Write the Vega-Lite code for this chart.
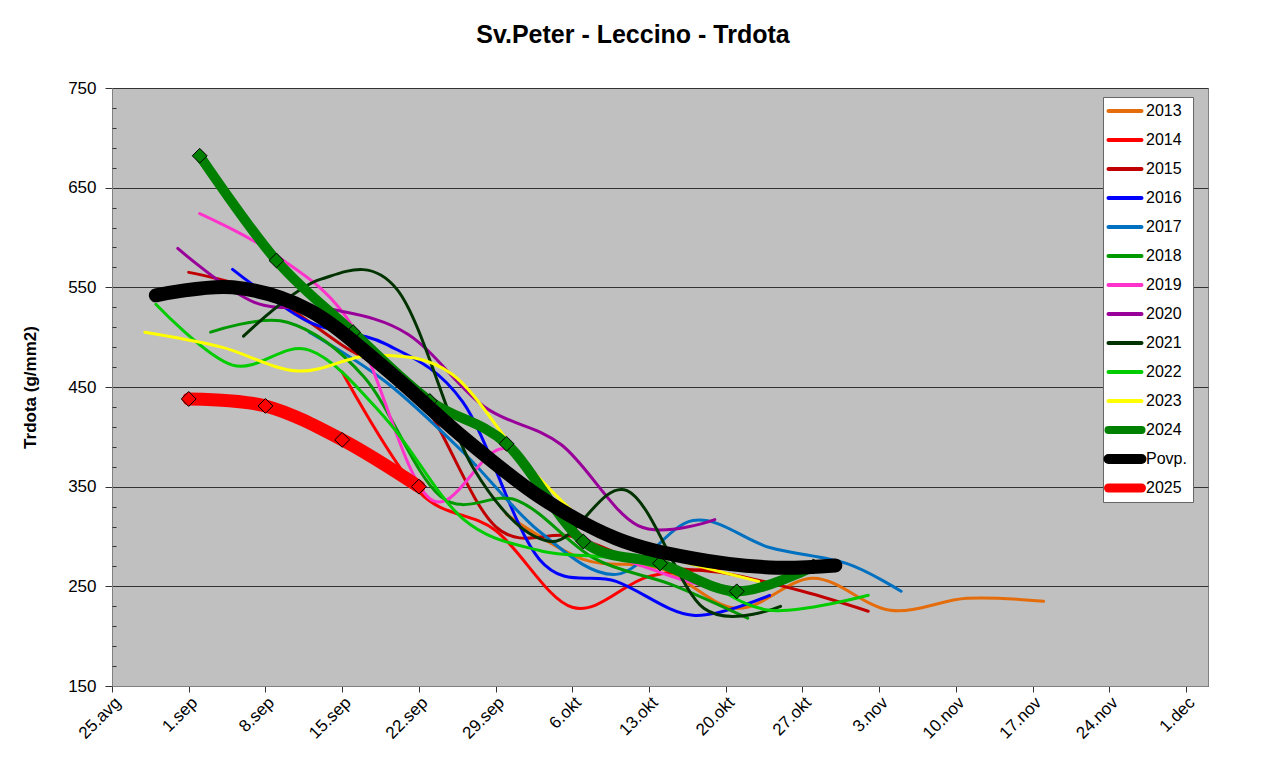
{
  "$schema": "https://vega.github.io/schema/vega-lite/v6.json",
  "width": 1096,
  "height": 598,
  "autosize": {"type": "none"},
  "padding": {"left": 112, "top": 88, "right": 76, "bottom": 75},
  "background": "white",
  "title": {"text": "Sv.Peter - Leccino - Trdota", "fontSize": 25, "font": "Liberation Sans", "fontWeight": "bold", "color": "#000000", "anchor": "middle", "frame": "group", "dx": -27, "offset": 31},
  "data": {"values": [
    {"s": "2013", "d": "2025-09-30", "v": 322}, {"s": "2013", "d": "2025-10-07", "v": 277}, {"s": "2013", "d": "2025-10-14", "v": 268}, {"s": "2013", "d": "2025-10-21", "v": 228}, {"s": "2013", "d": "2025-10-28", "v": 258}, {"s": "2013", "d": "2025-11-04", "v": 226}, {"s": "2013", "d": "2025-11-11", "v": 238}, {"s": "2013", "d": "2025-11-18", "v": 235},
    {"s": "2014", "d": "2025-09-15", "v": 465}, {"s": "2014", "d": "2025-09-22", "v": 345}, {"s": "2014", "d": "2025-09-29", "v": 306}, {"s": "2014", "d": "2025-10-06", "v": 229}, {"s": "2014", "d": "2025-10-13", "v": 260}, {"s": "2014", "d": "2025-10-20", "v": 268},
    {"s": "2015", "d": "2025-09-01", "v": 565}, {"s": "2015", "d": "2025-09-08", "v": 543}, {"s": "2015", "d": "2025-09-15", "v": 492}, {"s": "2015", "d": "2025-09-22", "v": 440}, {"s": "2015", "d": "2025-09-29", "v": 310}, {"s": "2015", "d": "2025-10-06", "v": 300}, {"s": "2015", "d": "2025-10-13", "v": 272}, {"s": "2015", "d": "2025-10-20", "v": 263}, {"s": "2015", "d": "2025-10-27", "v": 245}, {"s": "2015", "d": "2025-11-02", "v": 225},
    {"s": "2016", "d": "2025-09-05", "v": 568}, {"s": "2016", "d": "2025-09-12", "v": 515}, {"s": "2016", "d": "2025-09-19", "v": 493}, {"s": "2016", "d": "2025-09-26", "v": 435}, {"s": "2016", "d": "2025-10-03", "v": 277}, {"s": "2016", "d": "2025-10-10", "v": 255}, {"s": "2016", "d": "2025-10-17", "v": 221}, {"s": "2016", "d": "2025-10-24", "v": 241},
    {"s": "2017", "d": "2025-09-12", "v": 505}, {"s": "2017", "d": "2025-09-19", "v": 455}, {"s": "2017", "d": "2025-09-26", "v": 385}, {"s": "2017", "d": "2025-10-03", "v": 305}, {"s": "2017", "d": "2025-10-10", "v": 262}, {"s": "2017", "d": "2025-10-17", "v": 316}, {"s": "2017", "d": "2025-10-24", "v": 289}, {"s": "2017", "d": "2025-10-31", "v": 273}, {"s": "2017", "d": "2025-11-05", "v": 245},
    {"s": "2018", "d": "2025-09-03", "v": 505}, {"s": "2018", "d": "2025-09-10", "v": 515}, {"s": "2018", "d": "2025-09-17", "v": 460}, {"s": "2018", "d": "2025-09-24", "v": 340}, {"s": "2018", "d": "2025-10-01", "v": 336}, {"s": "2018", "d": "2025-10-08", "v": 278}, {"s": "2018", "d": "2025-10-15", "v": 252}, {"s": "2018", "d": "2025-10-22", "v": 218},
    {"s": "2019", "d": "2025-09-02", "v": 624}, {"s": "2019", "d": "2025-09-09", "v": 582}, {"s": "2019", "d": "2025-09-16", "v": 510}, {"s": "2019", "d": "2025-09-23", "v": 338}, {"s": "2019", "d": "2025-09-30", "v": 388}, {"s": "2019", "d": "2025-10-07", "v": 300}, {"s": "2019", "d": "2025-10-14", "v": 264}, {"s": "2019", "d": "2025-10-21", "v": 242},
    {"s": "2020", "d": "2025-08-31", "v": 589}, {"s": "2020", "d": "2025-09-07", "v": 535}, {"s": "2020", "d": "2025-09-14", "v": 528}, {"s": "2020", "d": "2025-09-21", "v": 503}, {"s": "2020", "d": "2025-09-28", "v": 430}, {"s": "2020", "d": "2025-10-05", "v": 392}, {"s": "2020", "d": "2025-10-12", "v": 311}, {"s": "2020", "d": "2025-10-19", "v": 317},
    {"s": "2021", "d": "2025-09-06", "v": 501}, {"s": "2021", "d": "2025-09-13", "v": 558}, {"s": "2021", "d": "2025-09-20", "v": 548}, {"s": "2021", "d": "2025-09-27", "v": 368}, {"s": "2021", "d": "2025-10-04", "v": 295}, {"s": "2021", "d": "2025-10-11", "v": 346}, {"s": "2021", "d": "2025-10-18", "v": 228}, {"s": "2021", "d": "2025-10-25", "v": 230},
    {"s": "2022", "d": "2025-08-29", "v": 533}, {"s": "2022", "d": "2025-09-05", "v": 472}, {"s": "2022", "d": "2025-09-12", "v": 487}, {"s": "2022", "d": "2025-09-19", "v": 418}, {"s": "2022", "d": "2025-09-26", "v": 318}, {"s": "2022", "d": "2025-10-03", "v": 286}, {"s": "2022", "d": "2025-10-10", "v": 278}, {"s": "2022", "d": "2025-10-17", "v": 260}, {"s": "2022", "d": "2025-10-24", "v": 226}, {"s": "2022", "d": "2025-11-02", "v": 241},
    {"s": "2023", "d": "2025-08-28", "v": 505}, {"s": "2023", "d": "2025-09-04", "v": 490}, {"s": "2023", "d": "2025-09-11", "v": 466}, {"s": "2023", "d": "2025-09-18", "v": 482}, {"s": "2023", "d": "2025-09-25", "v": 463}, {"s": "2023", "d": "2025-10-02", "v": 370}, {"s": "2023", "d": "2025-10-09", "v": 300}, {"s": "2023", "d": "2025-10-16", "v": 275}, {"s": "2023", "d": "2025-10-23", "v": 255},
    {"s": "2024", "d": "2025-09-02", "v": 682}, {"s": "2024", "d": "2025-09-09", "v": 577}, {"s": "2024", "d": "2025-09-16", "v": 505}, {"s": "2024", "d": "2025-09-23", "v": 436}, {"s": "2024", "d": "2025-09-30", "v": 393}, {"s": "2024", "d": "2025-10-07", "v": 295}, {"s": "2024", "d": "2025-10-14", "v": 273}, {"s": "2024", "d": "2025-10-21", "v": 245}, {"s": "2024", "d": "2025-10-28", "v": 270},
    {"s": "Povp.", "d": "2025-08-29", "v": 542}, {"s": "Povp.", "d": "2025-09-05", "v": 550}, {"s": "Povp.", "d": "2025-09-12", "v": 527}, {"s": "Povp.", "d": "2025-09-19", "v": 468}, {"s": "Povp.", "d": "2025-09-26", "v": 400}, {"s": "Povp.", "d": "2025-10-03", "v": 340}, {"s": "Povp.", "d": "2025-10-10", "v": 298}, {"s": "Povp.", "d": "2025-10-17", "v": 278}, {"s": "Povp.", "d": "2025-10-24", "v": 269}, {"s": "Povp.", "d": "2025-10-30", "v": 271},
    {"s": "2025", "d": "2025-09-01", "v": 438}, {"s": "2025", "d": "2025-09-08", "v": 431}, {"s": "2025", "d": "2025-09-15", "v": 397}, {"s": "2025", "d": "2025-09-22", "v": 350}
  ]},
  "encoding": {
    "x": {
      "field": "d", "type": "temporal",
      "scale": {"type": "utc", "domain": [{"year": 2025, "month": 8, "date": 25, "utc": true}, {"year": 2025, "month": 12, "date": 3, "utc": true}]},
      "axis": {
        "values": [
          {"year": 2025, "month": 8, "date": 25, "utc": true}, {"year": 2025, "month": 9, "date": 1, "utc": true}, {"year": 2025, "month": 9, "date": 8, "utc": true}, {"year": 2025, "month": 9, "date": 15, "utc": true}, {"year": 2025, "month": 9, "date": 22, "utc": true}, {"year": 2025, "month": 9, "date": 29, "utc": true}, {"year": 2025, "month": 10, "date": 6, "utc": true}, {"year": 2025, "month": 10, "date": 13, "utc": true}, {"year": 2025, "month": 10, "date": 20, "utc": true}, {"year": 2025, "month": 10, "date": 27, "utc": true}, {"year": 2025, "month": 11, "date": 3, "utc": true}, {"year": 2025, "month": 11, "date": 10, "utc": true}, {"year": 2025, "month": 11, "date": 17, "utc": true}, {"year": 2025, "month": 11, "date": 24, "utc": true}, {"year": 2025, "month": 12, "date": 1, "utc": true}
        ],
        "labelExpr": "utcdate(datum.value) + '.' + ['jan','feb','mar','apr','maj','jun','jul','avg','sep','okt','nov','dec'][utcmonth(datum.value)]",
        "labelAngle": -45, "labelFontSize": 17, "labelFont": "Liberation Sans", "labelColor": "#000000",
        "tickSize": 6, "tickColor": "#333333", "grid": false, "title": null, "domainColor": "#808080", "labelPadding": 2, "labelOverlap": false
      }
    }
  },
  "layer": [
    {
      "transform": [{"filter": {"field": "s", "oneOf": ["2013", "2014", "2015", "2016", "2017", "2018", "2019", "2020", "2021", "2022", "2023"]}}],
      "mark": {"type": "line", "interpolate": "cardinal", "strokeCap": "round", "strokeJoin": "round", "strokeWidth": 3},
      "encoding": {
        "y": {"field": "v", "type": "quantitative", "scale": {"domain": [150, 750], "nice": false, "zero": false},
          "axis": {"orient": "left", "values": [150, 250, 350, 450, 550, 650, 750], "grid": true, "gridColor": "#333333", "gridWidth": 1, "tickSize": 7, "tickColor": "#333333", "domainColor": "#808080", "labelFontSize": 17, "labelFont": "Liberation Sans", "labelColor": "#000000", "labelPadding": 9, "title": "Trdota (g/mm2)", "titleFont": "Liberation Sans", "titleFontSize": 17, "titleFontWeight": "bold", "titleColor": "#000000", "titlePadding": 28}},
        "color": {"field": "s", "type": "nominal",
          "scale": {"domain": ["2013", "2014", "2015", "2016", "2017", "2018", "2019", "2020", "2021", "2022", "2023", "2024", "Povp.", "2025"],
                    "range": ["#E46C0A", "#FF0000", "#C00000", "#0000FF", "#0070C0", "#009900", "#FF33CC", "#990099", "#003300", "#00CC00", "#FFFF00", "#008000", "#000000", "#FF0000"]},
          "legend": {"orient": "none", "legendX": 991, "legendY": 9, "title": null, "fillColor": "white", "strokeColor": "#666666", "padding": 6, "labelFontSize": 16, "labelFont": "Liberation Sans", "labelColor": "#000000", "symbolType": "stroke", "symbolSize": 1089, "symbolStrokeWidth": 3, "symbolOffset": 8, "rowPadding": 13, "labelOffset": 13, "gridAlign": "all",
            "encode": {"symbols": {"update": {"strokeWidth": {"signal": "datum.value == '2024' ? 8 : datum.value == 'Povp.' ? 10 : datum.value == '2025' ? 9 : 4"}, "strokeJoin": {"value": "round"}, "strokeCap": {"value": "round"}}}}}}
      }
    },
    {
      "transform": [{"filter": {"field": "s", "equal": "2024"}}],
      "mark": {"type": "line", "interpolate": "cardinal", "strokeCap": "round", "strokeJoin": "round", "strokeWidth": 10},
      "encoding": {
        "y": {"field": "v", "type": "quantitative", "axis": null},
        "color": {"field": "s", "type": "nominal"}
      }
    },
    {
      "transform": [{"filter": {"field": "s", "equal": "2024"}}],
      "mark": {"type": "point", "shape": "diamond", "filled": true, "fill": "#008000", "stroke": "#000000", "strokeWidth": 1, "size": 220, "opacity": 1},
      "encoding": {"y": {"field": "v", "type": "quantitative", "axis": null}}
    },
    {
      "transform": [{"filter": {"field": "s", "equal": "Povp."}}],
      "mark": {"type": "line", "interpolate": "cardinal", "strokeCap": "round", "strokeJoin": "round", "strokeWidth": 14},
      "encoding": {
        "y": {"field": "v", "type": "quantitative", "axis": null},
        "color": {"field": "s", "type": "nominal"}
      }
    },
    {
      "transform": [{"filter": {"field": "s", "equal": "2025"}}],
      "mark": {"type": "line", "interpolate": "cardinal", "strokeCap": "round", "strokeJoin": "round", "strokeWidth": 13},
      "encoding": {
        "y": {"field": "v", "type": "quantitative", "axis": null},
        "color": {"field": "s", "type": "nominal"}
      }
    },
    {
      "transform": [{"filter": {"field": "s", "equal": "2025"}}],
      "mark": {"type": "point", "shape": "diamond", "filled": true, "fill": "#FF0000", "stroke": "#000000", "strokeWidth": 1, "size": 220, "opacity": 1},
      "encoding": {"y": {"field": "v", "type": "quantitative",
        "axis": {"orient": "left", "values": [170, 190, 210, 230, 270, 290, 310, 330, 370, 390, 410, 430, 470, 490, 510, 530, 570, 590, 610, 630, 670, 690, 710, 730], "labels": false, "grid": false, "domain": false, "tickSize": -4, "tickColor": "#333333", "title": null}}}
    }
  ],
  "resolve": {"axis": {"y": "independent"}},
  "config": {
    "view": {"fill": "#C0C0C0", "stroke": "#808080", "strokeWidth": 1},
    "font": "Liberation Sans"
  }
}
